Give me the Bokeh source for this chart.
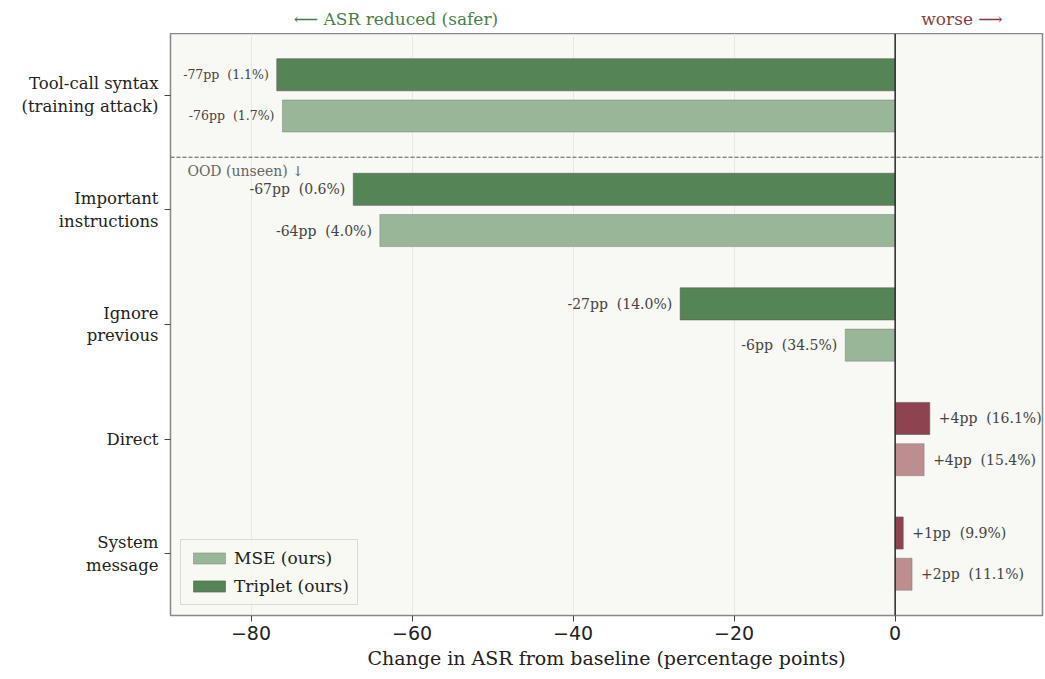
from bokeh.plotting import figure
from bokeh.layouts import column
from bokeh.models import (ColumnDataSource, Range1d, FixedTicker, Label, Span,
                          Legend, LegendItem)
from bokeh.core.properties import value
from bokeh.embed import file_html
from bokeh.resources import INLINE

# Attack categories (top to bottom) and change in ASR vs baseline (pp)
categories = ["Tool-call syntax\n(training attack)", "Important\ninstructions",
              "Ignore\nprevious", "Direct", "System\nmessage"]
triplet_delta = [-76.8, -67.3, -26.7, 4.3, 1.0]
mse_delta = [-76.1, -64.0, -6.2, 3.6, 2.1]
# resulting ASR after defence (%)
triplet_asr = [1.1, 0.6, 14.0, 16.1, 9.9]
mse_asr = [1.7, 4.0, 34.5, 15.4, 11.1]
x_ticks = [-80, -60, -40, -20, 0]
direction_text = ["\u27f5 ASR reduced (safer)", "worse \u27f6"]
direction_x = [-62, 8.3]
direction_color = ["#4a7f4d", "#8b3a45"]

SERIF = "DejaVu Serif"
BG = "#f8f8f4"
GREEN_DARK, GREEN_LIGHT = "#558556", "#99b798"
RED_DARK, RED_LIGHT = "#8e4450", "#be8d90"
X_MIN, X_MAX = -90, 18.3

OFF = 0.18
H = 0.28

# thin strip above the chart carrying the direction hints
top = figure(width=1045, height=33, output_backend="svg", toolbar_location=None,
             x_range=Range1d(X_MIN, X_MAX), y_range=Range1d(0, 1),
             min_border_left=170, min_border_right=3, min_border_top=0,
             min_border_bottom=0)
top.axis.visible = False
top.grid.visible = False
top.outline_line_color = None
top.background_fill_color = "white"
top.border_fill_color = "white"
top.text(x=direction_x, y=[0.45] * 2, text=direction_text,
         text_color=direction_color, text_align="center", text_baseline="middle",
         text_font=value(SERIF), text_font_size="17px")

p = figure(width=1045, height=646, output_backend="svg", toolbar_location=None,
           x_range=top.x_range, y_range=Range1d(4.54, -0.54),
           min_border_left=170, min_border_right=3, min_border_top=0,
           min_border_bottom=64)
p.background_fill_color = BG
p.border_fill_color = "white"
p.outline_line_color = "#888888"
p.outline_line_width = 1.5


def build(deltas, asrs, off, neg_col, pos_col):
    ys = [i + off for i in range(len(deltas))]
    cols = [neg_col if d < 0 else pos_col for d in deltas]
    labels = [f"{d:+.0f}pp\u00a0\u00a0({a:.1f}%)".replace("+-", "-")
              for d, a in zip(deltas, asrs)]
    return ColumnDataSource(dict(y=ys, right=deltas, left=[0] * len(deltas),
                                 color=cols, label=labels))


src_t = build(triplet_delta, triplet_asr, -OFF, GREEN_DARK, RED_DARK)
src_m = build(mse_delta, mse_asr, OFF, GREEN_LIGHT, RED_LIGHT)

r_t = p.hbar(y="y", left="left", right="right", height=H, source=src_t,
             fill_color="color", line_color="#5a5a5a", line_alpha=0.6, line_width=1)
r_m = p.hbar(y="y", left="left", right="right", height=H, source=src_m,
             fill_color="color", line_color="#6b6b6b", line_alpha=0.4, line_width=1)

# value labels next to each bar end
for src, deltas in ((src_t, triplet_delta), (src_m, mse_delta)):
    d = src.data
    for i, v in enumerate(deltas):
        size = "12.5px" if i == 0 else "14px"
        neg = v < 0
        p.add_layout(Label(x=v, y=d["y"][i], text=d["label"][i],
                           x_offset=-8 if neg else 9,
                           text_align="right" if neg else "left",
                           text_baseline="middle", text_font=SERIF,
                           text_font_size=size, text_color="#444444"))

# zero line and in/out-of-distribution separator
p.add_layout(Span(location=0, dimension="height", line_color="#333333", line_width=1.6))
p.add_layout(Span(location=0.54, dimension="width", line_color="#555555",
                  line_width=1, line_dash="4 2"))
p.add_layout(Label(x=-87.9, y=0.59, text="OOD (unseen) \u2193", text_baseline="top",
                   text_font=SERIF, text_font_size="14px", text_color="#666666"))

# axes
p.xaxis.ticker = FixedTicker(ticks=x_ticks)
p.xaxis.major_label_overrides = {t: (f"\u2212{abs(t)}" if t < 0 else str(t)) for t in x_ticks}
p.xaxis.major_label_text_font = "DejaVu Sans"
p.xaxis.major_label_text_font_size = "19px"
p.xaxis.major_label_text_color = "#222222"
p.xaxis.axis_label = "Change in ASR from baseline (percentage points)"
p.xaxis.axis_label_text_font = SERIF
p.xaxis.axis_label_text_font_size = "19px"
p.xaxis.axis_label_text_font_style = "normal"
p.xaxis.axis_label_text_color = "#222222"
p.xaxis.axis_label_standoff = 4
p.xaxis.major_label_standoff = 4
p.xaxis.axis_line_color = None
p.xaxis.major_tick_line_color = "#444444"
p.xaxis.major_tick_out = 6
p.xaxis.major_tick_in = 0
p.xaxis.minor_tick_line_color = None

p.yaxis.ticker = FixedTicker(ticks=list(range(len(categories))))
p.yaxis.major_label_overrides = {i: c for i, c in enumerate(categories)}
p.yaxis.major_label_text_font = SERIF
p.yaxis.major_label_text_font_size = "16.5px"
p.yaxis.major_label_text_color = "#222222"
p.yaxis.major_label_text_align = "right"
p.yaxis.axis_line_color = None
p.yaxis.major_tick_line_color = "#444444"
p.yaxis.major_tick_out = 6
p.yaxis.major_tick_in = 0
p.yaxis.minor_tick_line_color = None
p.yaxis.major_label_standoff = 6

p.xgrid.grid_line_color = "#e8e8e2"
p.xgrid.grid_line_width = 1
p.ygrid.grid_line_color = None

legend = Legend(items=[LegendItem(label="MSE (ours)", renderers=[r_m], index=0),
                       LegendItem(label="Triplet (ours)", renderers=[r_t], index=0)],
                location="bottom_left")
legend.label_text_font = SERIF
legend.label_text_font_size = "17px"
legend.label_text_color = "#222222"
legend.glyph_width = 40
legend.glyph_height = 14
legend.spacing = 8
legend.padding = 8
legend.margin = 10
legend.border_line_color = "#bbbbbb"
legend.border_line_width = 1.5
legend.background_fill_color = BG
legend.background_fill_alpha = 0.9
p.add_layout(legend)

layout = column(top, p, spacing=0)
open("out.html", "w").write(file_html(layout, INLINE))
